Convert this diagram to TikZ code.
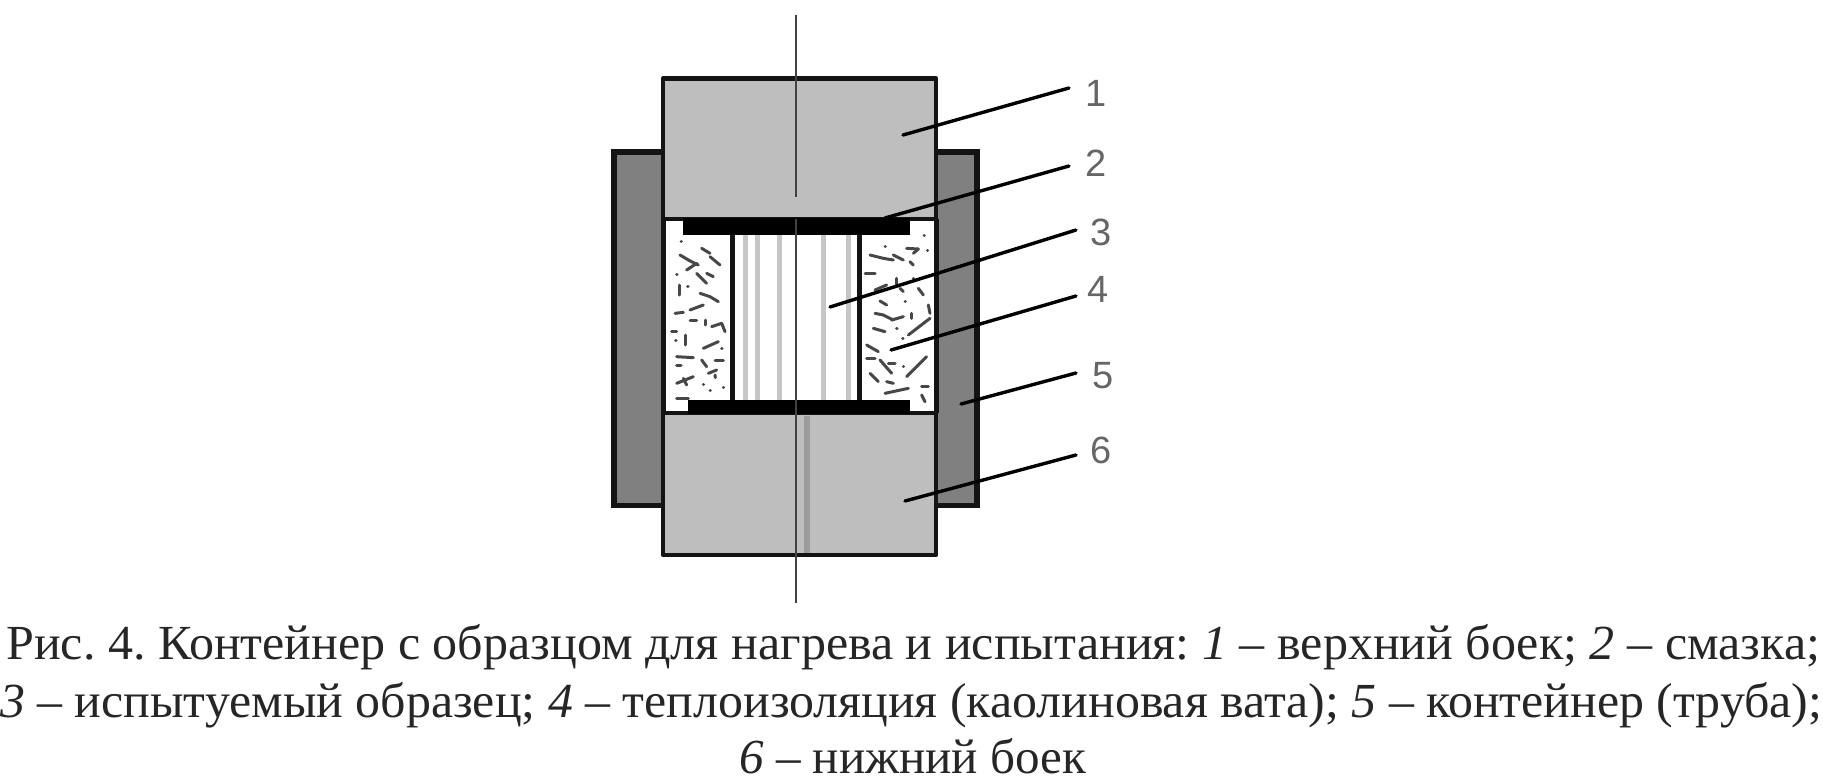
\documentclass[tikz,border=0pt]{standalone}
\usepackage{fontspec}
\usepackage{graphicx}
\setmainfont{Liberation Serif}
\newfontfamily\labelfont{Liberation Sans}
\definecolor{punchgrey}{HTML}{BEBEBE}
\definecolor{tubegrey}{HTML}{808080}
\definecolor{stripegrey}{HTML}{C6C6C6}
\definecolor{inkdark}{HTML}{141414}
\definecolor{numgrey}{HTML}{666666}
\definecolor{captionink}{HTML}{262626}
\newcommand{\capline}[2]{\resizebox{#1pt}{\height}{\fontsize{49}{50}\selectfont\frenchspacing #2}}
\tikzset{
  x=1pt,y=-1pt,
  tube/.style={fill=tubegrey,draw=inkdark,line width=5.5pt},
  punch/.style={fill=punchgrey,draw=inkdark,line width=4.8pt,line join=round},
  plate/.style={fill=black,draw=none},
  wall/.style={draw=inkdark,line width=5pt},
  stripe/.style={draw=stripegrey,line width=5pt},
  axisline/.style={draw=inkdark!80!white,line width=2.8pt},
  leader/.style={draw=black,line width=3.4pt,line cap=round},
  speck/.style={draw=black!72,line width=3pt,line cap=round},
  num/.style={font=\labelfont\fontsize{38}{40}\selectfont,text=numgrey,inner sep=0pt},
  captext/.style={anchor=base west,inner sep=0pt,text=captionink}
}
\begin{document}
\begin{tikzpicture}
\useasboundingbox[fill=white] (0,0) rectangle (1823,776);
% container tube
\draw[tube] (614,152) rectangle (977,505.5);
% interior
\fill[white] (663,219) rectangle (936,413);
% sample stripes
\foreach \sx in {745,757,779,823,848} \draw[stripe] (\sx,234) -- (\sx,400);
% insulation specks, left
\foreach \a/\b/\c/\d in {140/70/165/85,165/95/195/120,75/90/100/105,100/105/130/120,95/135/125/115,125/145/155/175,155/145/175/155,72/180/72/210,98/185/99/185,65/148/66/148,135/205/165/215,165/215/190/230,105/255/145/240,60/265/85/262,105/285/125/285,152/285/152/300,170/305/200/295,200/295/210/320,50/320/65/320,92/330/92/360,62/345/63/345,145/370/190/350,200/370/201/370,65/395/115/398,65/422/78/422,140/405/155/425,180/405/205/405,160/445/185/435,180/450/181/458,65/475/115/455,85/460/95/480,145/478/146/478,165/495/166/495,205/487/206/487,65/520/100/520,78/48/79/48}
  \draw[speck] ({655+\a/3},{225+\b/3}) -- ({655+\c/3},{225+\d/3});
% insulation specks, right
\foreach \a/\b/\c/\d in {60/90/100/100,100/100/130/105,130/90/160/105,170/70/205/72,205/72/190/85,180/110/190/120,105/65/106/65,232/75/233/75,222/30/223/30,45/145/75/145,75/195/110/180,140/160/140/185,190/160/191/160,150/190/160/200,165/228/166/228,90/228/110/240,205/190/220/210,75/265/100/270,100/270/130/285,125/285/160/275,70/310/105/320,185/265/185/280,175/330/240/280,235/240/240/265,140/310/141/310,158/340/159/340,50/360/85/380,50/400/75/400,90/405/125/445,115/415/135/415,160/425/161/425,170/455/230/395,60/445/85/470,110/470/130/475,105/505/175/490,215/485/235/485,215/510/225/530}
  \draw[speck] ({850+\a/3},{225+\b/3}) -- ({850+\c/3},{225+\d/3});
% punches
\draw[punch] (663,78.5) rectangle (936,219);
\draw[punch] (663,413) rectangle (936,555);
\fill[black!18!punchgrey] (804,415.5) rectangle (810,552.5);
% side walls of the interior
\draw[wall] (663,219) -- (663,413);
\draw[wall] (936,219) -- (936,413);
\draw[wall] (732.5,234) -- (732.5,400);
\draw[wall] (859,234) -- (859,400);
% plates
\fill[plate] (683,218) rectangle (910,235);
\fill[plate] (688,400) rectangle (910,414);
% centre line
\draw[axisline] (796,15) -- (796,197);
\draw[axisline] (796,219) -- (796,603);
% labels and leaders
\node[num] (n1) at (1096,93) {1};
\node[num] (n2) at (1096,163) {2};
\node[num] (n3) at (1101,232) {3};
\node[num] (n4) at (1098,289) {4};
\node[num] (n5) at (1103,376) {5};
\node[num] (n6) at (1101,450) {6};
\coordinate (e1) at (1069,88);
\coordinate (e2) at (1069,166);
\coordinate (e3) at (1076,230);
\coordinate (e4) at (1076,296);
\coordinate (e5) at (1076,373);
\coordinate (e6) at (1076,455);
\coordinate (s1) at (903,135);
\coordinate (s2) at (885,218);
\coordinate (s3) at (830,307);
\coordinate (s4) at (891,350);
\coordinate (s5) at (961,404);
\coordinate (s6) at (905,501);
\draw[leader] (s1) -- (e1);
\draw[leader] (s2) -- (e2);
\draw[leader] (s3) -- (e3);
\draw[leader] (s4) -- (e4);
\draw[leader] (s5) -- (e5);
\draw[leader] (s6) -- (e6);
% caption
\node[captext] (c1) at (6,659) {\capline{1814}{Рис. 4. Контейнер с образцом для нагрева и испытания: \textit{1} – верхний боек; \textit{2} – смазка;}};
\node[captext] (c2) at (0,717) {\capline{1822}{\textit{3} – испытуемый образец; \textit{4} – теплоизоляция (каолиновая вата); \textit{5} – контейнер (труба);}};
\node[captext] (c3) at (739,773) {\capline{347}{\textit{6} – нижний боек}};
\end{tikzpicture}
\end{document}
